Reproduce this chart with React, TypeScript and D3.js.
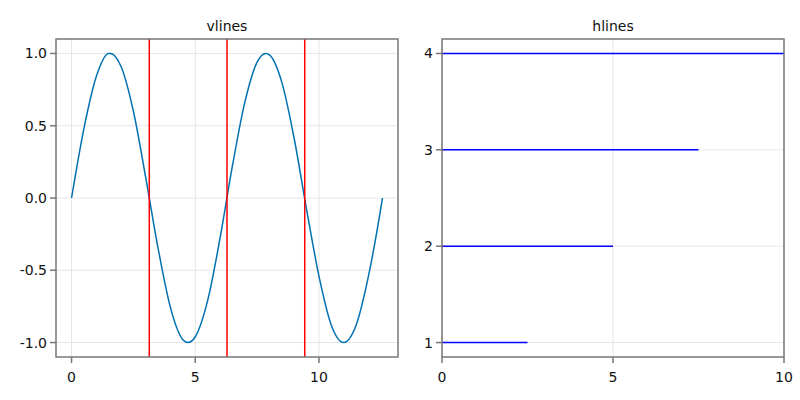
import React from "react";
import * as d3 from "d3";

const sineX = [0, 0.5, 1, 1.5, 1.571, 2, 2.5, 3, 3.5, 4, 4.5, 4.712, 5, 5.5, 6, 6.5, 7, 7.5, 7.854, 8, 8.5, 9, 9.5, 10, 10.5, 10.996, 11.5, 12, 12.5, 12.566];
const sineY = [0, 0.48, 0.84, 1.0, 1.0, 0.91, 0.6, 0.14, -0.35, -0.76, -0.98, -1.0, -0.96, -0.71, -0.28, 0.22, 0.66, 0.94, 1.0, 0.99, 0.8, 0.41, -0.08, -0.54, -0.88, -1.0, -0.88, -0.54, -0.07, 0];
const vlineX = [3.1416, 6.2832, 9.4248];
const hlineY = [1, 2, 3, 4];
const hlineXmax = [0.25, 0.5, 0.75, 1.0];
const leftXTicks = [0, 5, 10];
const leftYTicks = [-1.0, -0.5, 0.0, 0.5, 1.0];
const rightXTicks = [0, 5, 10];
const rightYTicks = [1, 2, 3, 4];

const FONT = "DejaVu Sans, sans-serif";
const SPINE = "#777";
const GRID = "#e6e6e6";

function Panel({ x0, x1, y0, y1, xs, ys, xTicks, yTicks, yFmt, title, children }: any) {
  return (
    <g>
      <text x={(x0 + x1) / 2} y={31} textAnchor="middle" fontFamily={FONT} fontSize={14} fill="#111">{title}</text>
      {xTicks.map((t: number) => (
        <line key={"gx" + t} x1={xs(t)} x2={xs(t)} y1={y0} y2={y1} stroke={GRID} strokeWidth={1} />
      ))}
      {yTicks.map((t: number) => (
        <line key={"gy" + t} x1={x0} x2={x1} y1={ys(t)} y2={ys(t)} stroke={GRID} strokeWidth={1} />
      ))}
      <g clipPath={undefined}>{children}</g>
      <rect x={x0} y={y0} width={x1 - x0} height={y1 - y0} fill="none" stroke={SPINE} strokeWidth={1.5} />
      {xTicks.map((t: number) => (
        <g key={"tx" + t}>
          <line x1={xs(t)} x2={xs(t)} y1={y1} y2={y1 + 6} stroke={SPINE} strokeWidth={1.5} />
          <text x={xs(t)} y={382} textAnchor="middle" fontFamily={FONT} fontSize={14} fill="#111">{t}</text>
        </g>
      ))}
      {yTicks.map((t: number) => (
        <g key={"ty" + t}>
          <line x1={x0 - 6} x2={x0} y1={ys(t)} y2={ys(t)} stroke={SPINE} strokeWidth={1.5} />
          <text x={x0 - 9} y={ys(t) + 5} textAnchor="end" fontFamily={FONT} fontSize={14} fill="#111">{yFmt(t)}</text>
        </g>
      ))}
    </g>
  );
}

export default function App() {
  const L = { x0: 56, x1: 398, y0: 39, y1: 357 };
  const R = { x0: 442, x1: 784, y0: 39, y1: 357 };
  const lxMin = 0, lxMax = 12.566;
  const lpad = (lxMax - lxMin) * 0.05;
  const lxs = d3.scaleLinear().domain([lxMin - lpad, lxMax + lpad]).range([L.x0, L.x1]);
  const lys = d3.scaleLinear().domain([-1.1, 1.1]).range([L.y1, L.y0]);
  const rxs = d3.scaleLinear().domain([0, 10]).range([R.x0, R.x1]);
  const rys = d3.scaleLinear().domain([1 - 0.15, 4 + 0.15]).range([R.y1, R.y0]);

  const pts = sineX.map((x, i) => [x, sineY[i]] as [number, number]);
  const path = d3.line<[number, number]>().x((d) => lxs(d[0])).y((d) => lys(d[1])).curve(d3.curveMonotoneX)(pts) || "";

  return (
    <svg width={800} height={400} style={{ position: "absolute", left: 0, top: 0, background: "#fff" }}>
      <rect width={800} height={400} fill="#fff" />
      <Panel {...L} xs={lxs} ys={lys} xTicks={leftXTicks} yTicks={leftYTicks} yFmt={(t: number) => d3.format(".1f")(t).replace("−", "-")} title="vlines">
        <path d={path} fill="none" stroke="#0072b2" strokeWidth={1.5} />
        {vlineX.map((v) => (
          <line key={v} x1={lxs(v)} x2={lxs(v)} y1={L.y0} y2={L.y1} stroke="#ff0000" strokeWidth={1.5} />
        ))}
      </Panel>
      <Panel {...R} xs={rxs} ys={rys} xTicks={rightXTicks} yTicks={rightYTicks} yFmt={(t: number) => String(t)} title="hlines">
        {hlineY.map((h, i) => (
          <line key={h} x1={R.x0} x2={R.x0 + (R.x1 - R.x0) * hlineXmax[i]} y1={rys(h)} y2={rys(h)} stroke="#0000ff" strokeWidth={1.5} />
        ))}
      </Panel>
    </svg>
  );
}
